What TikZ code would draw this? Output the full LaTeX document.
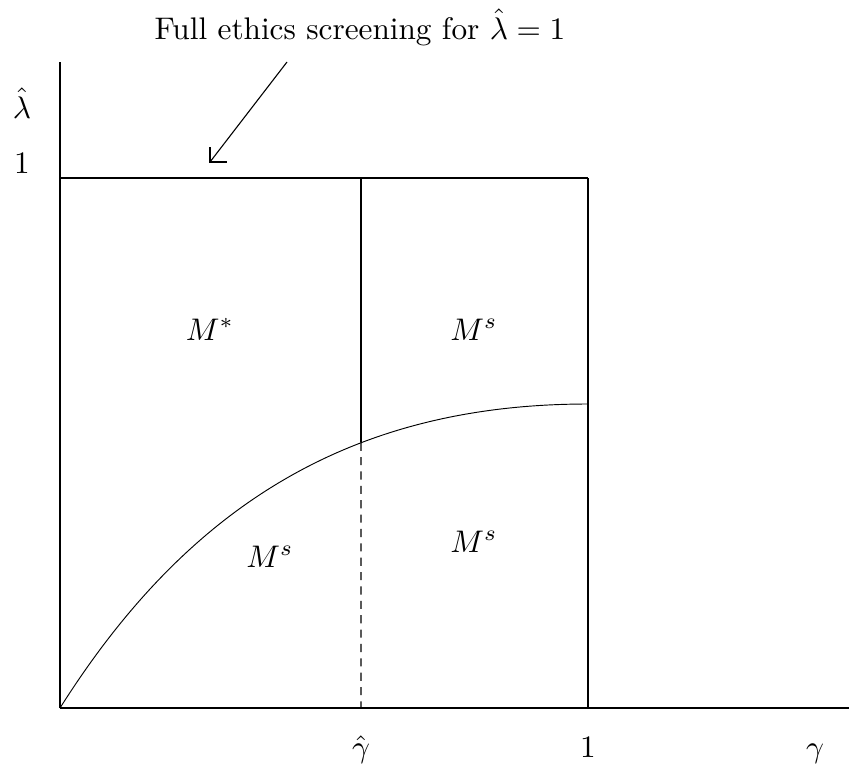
\documentclass[tikz,border=0pt]{standalone}
\usetikzlibrary{intersections,calc}
\begin{document}
\begin{tikzpicture}[x=0.32pt,y=-0.32pt,
  axis/.style={line width=0.8pt},
  yaxis/.style={line width=0.55pt},
  topline/.style={line width=0.75pt},
  divider/.style={line width=0.55pt},
  boundary/.style={line width=0.3pt},
  dashdiv/.style={line width=0.4pt,dash pattern=on 2.6pt off 2pt},
  pointer/.style={line width=0.35pt},
  lbl/.style={inner sep=0pt,anchor=base}]
\useasboundingbox (0,0) rectangle (849,766);
% key points
\coordinate (O) at (60,708);
\coordinate (ytop) at (60,62);
\coordinate (xend) at (849,708);
\coordinate (A) at (60,178);
\coordinate (B) at (361,178);
\coordinate (C) at (588,178);
\coordinate (D) at (588,708);
\coordinate (G) at (361,708);
\coordinate (E) at (588,404);
\coordinate (tail) at (287,62);
\coordinate (tip) at (210,162);
% axes
\draw[yaxis] (O) -- (ytop);
\draw[axis] (O) -- (xend);
% top line and verticals
\draw[topline] (A) -- (C);
\draw[divider] (C) -- (D);
% curve
\draw[boundary,name path=curve] (O) .. controls (187,507) and (350,404) .. (E);
\path[name path=vline] (B) -- (G);
\path[name intersections={of=curve and vline,by=X}];
\draw[divider] (B) -- (X);
\draw[dashdiv] (X) -- (G);
% pointer arrow
\draw[pointer] (tail) -- (tip);
\draw[pointer] ($(tip)+(0,-15)$) -- (tip) -- ($(tip)+(17,0)$);
% labels
\node[lbl] (title) at (360,39) {Full ethics screening for $\hat{\lambda}=1$};
\node[lbl] (lamlab) at (22,118) {$\hat{\lambda}$};
\node[lbl] (onely) at (22,173) {$1$};
\node[lbl] (gamhat) at (361,757) {$\hat{\gamma}$};
\node[lbl] (onex) at (588,757) {$1$};
\node[lbl] (gam) at (815,757) {$\gamma$};
\node[lbl] (mstar) at (210,340) {$M^{*}$};
\node[lbl] (ms1) at (474,340) {$M^{s}$};
\node[lbl] (ms2) at (270,567) {$M^{s}$};
\node[lbl] (ms3) at (474,552) {$M^{s}$};
\end{tikzpicture}
\end{document}
